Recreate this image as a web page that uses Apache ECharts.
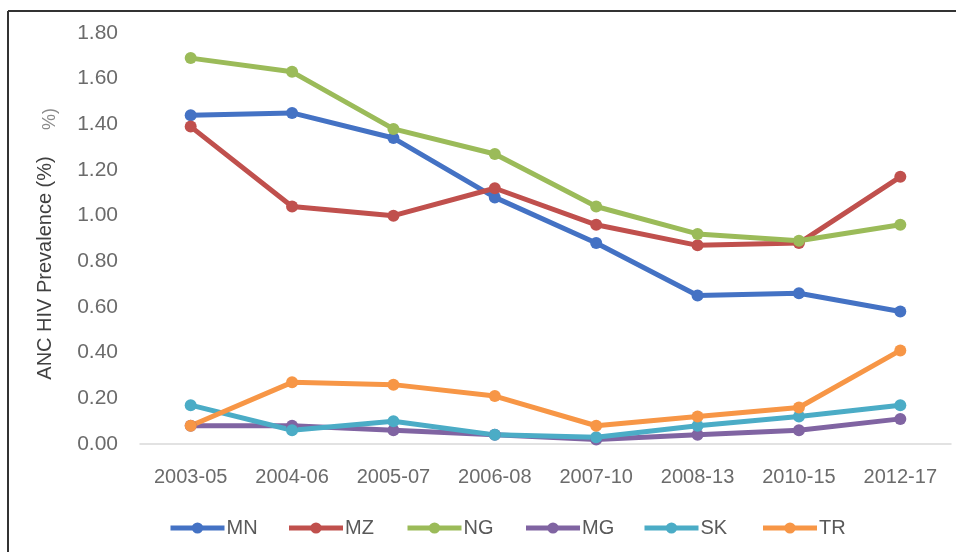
<!DOCTYPE html>
<html>
<head>
<meta charset="utf-8">
<script src="https://cdn.jsdelivr.net/npm/echarts@6/dist/echarts.min.js"></script>
<style>
html,body{margin:0;padding:0;background:#fff;}
#chart{width:956px;height:552px;}
</style>
</head>
<body>
<div id="chart"></div>
<script>
const categories = ['2003-05','2004-06','2005-07','2006-08','2007-10','2008-13','2010-15','2012-17'];
const MN = [1.44, 1.45, 1.34, 1.08, 0.88, 0.65, 0.66, 0.58];
const MZ = [1.39, 1.04, 1.00, 1.12, 0.96, 0.87, 0.88, 1.17];
const NG = [1.69, 1.63, 1.38, 1.27, 1.04, 0.92, 0.89, 0.96];
const MG = [0.08, 0.08, 0.06, 0.04, 0.02, 0.04, 0.06, 0.11];
const SK = [0.17, 0.06, 0.10, 0.04, 0.03, 0.08, 0.12, 0.17];
const TR = [0.08, 0.27, 0.26, 0.21, 0.08, 0.12, 0.16, 0.41];
const yTicks = {min: 0, max: 1.8, interval: 0.2};
const seriesNames = ['MN','MZ','NG','MG','SK','TR'];
const seriesData = [MN, MZ, NG, MG, SK, TR];
const colors = ['#4472C4','#C0504D','#9BBB59','#8064A2','#4BACC6','#F79646'];

const chart = echarts.init(document.getElementById('chart'));
const font = 'Liberation Sans, Arial, sans-serif';
chart.setOption({
  animation: false,
  color: colors,
  grid: {left: 140, right: 5, top: 33, bottom: 108, containLabel: false},
  xAxis: {
    type: 'category',
    data: categories,
    boundaryGap: true,
    axisLine: {show: true, lineStyle: {color: '#d9d9d9', width: 1.5}},
    axisTick: {show: false},
    axisLabel: {color: '#6b6b6b', fontSize: 20, fontFamily: font, margin: 23}
  },
  yAxis: {
    type: 'value',
    min: yTicks.min, max: yTicks.max, interval: yTicks.interval,
    axisLine: {show: false},
    axisTick: {show: false},
    splitLine: {show: false},
    axisLabel: {color: '#6b6b6b', fontSize: 21, fontFamily: font, margin: 22,
      formatter: v => v.toFixed(2)}
  },
  legend: seriesNames.map((n, i) => ({
    left: 168 + i * 118.5, top: 518, padding: 0,
    itemWidth: 54, itemHeight: 14, itemGap: 0,
    data: [n],
    lineStyle: {width: 5},
    textStyle: {color: '#595959', fontSize: 20, fontFamily: font, padding: [0,0,0,-3]}
  })),
  graphic: [
    {type: 'line', shape: {x1: 8, y1: 11, x2: 956, y2: 11}, style: {stroke: '#333', lineWidth: 2}},
    {type: 'line', shape: {x1: 8, y1: 11, x2: 8, y2: 552}, style: {stroke: '#333', lineWidth: 2}},
    {type: 'text', x: 45, y: 268, rotation: Math.PI / 2,
      style: {text: 'ANC HIV Prevalence (%)', fill: '#404040', fontSize: 20, fontFamily: font,
        textAlign: 'center', textVerticalAlign: 'middle'}},
    {type: 'text', x: 50, y: 119, rotation: Math.PI / 2,
      style: {text: '%)', fill: '#8a8a8a', fontSize: 18, fontFamily: font,
        textAlign: 'center', textVerticalAlign: 'middle'}}
  ],
  series: seriesNames.map((n, i) => ({
    name: n,
    type: 'line',
    data: seriesData[i],
    symbol: 'circle',
    symbolSize: 12,
    lineStyle: {width: 5, color: colors[i]},
    itemStyle: {color: colors[i]}
  }))
});
</script>
</body>
</html>
